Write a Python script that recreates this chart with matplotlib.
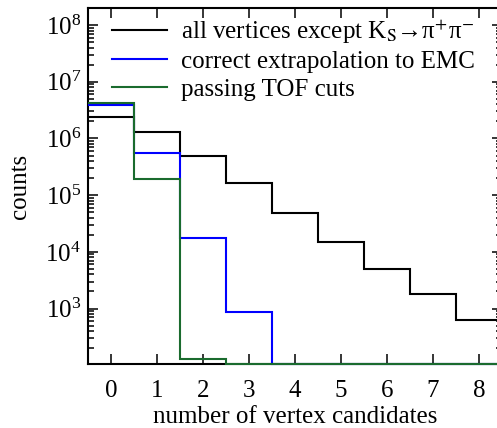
import numpy as np
import matplotlib
matplotlib.use('Agg')
import matplotlib.pyplot as plt

plt.rcParams['font.family'] = ['Liberation Serif', 'DejaVu Serif']
plt.rcParams['mathtext.fontset'] = 'stix'

# histogram contents, bins centred on 0..8
n_vertex = [0, 1, 2, 3, 4, 5, 6, 7, 8]
all_vertices = [2.44e6, 1.32e6, 4.9e5, 1.64e5, 4.8e4, 1.47e4, 4.9e3, 1.84e3, 640]
correct_emc = [3.9e6, 5.5e5, 1.77e4, 861, 0, 0, 0, 0, 0]
passing_tof = [4.3e6, 1.92e5, 129, 0, 0, 0, 0, 0, 0]

labels = ['all vertices except K$_{\\mathrm{S}}$→π$^{+}$π$^{-}$',
          'correct extrapolation to EMC',
          'passing TOF cuts']
colors = ['black', '#0000ff', '#1a6b2e']

ymin, ymax = 104, 2e8
edges = np.arange(len(n_vertex) + 1) - 0.5

fig = plt.figure(figsize=(4.97, 4.28), dpi=100)
ax = fig.add_axes([88/497, (428-364.3)/428, (502-88)/497, (364.3-8)/428])

for vals, lab, c in zip([all_vertices, correct_emc, passing_tof], labels, colors):
    # empty bins are drawn on the lower frame, like ROOT does
    v = np.clip(np.array(vals, dtype=float), ymin, None)
    ax.stairs(v, edges, baseline=None, color=c, lw=1.5, label=lab,
              zorder=3, clip_on=False)

ax.set_yscale('log')
ax.set_ylim(ymin, ymax)
ax.set_xlim(-0.5, 8.5)
ax.set_xticks(n_vertex)

ax.tick_params(axis='both', which='both', direction='in', top=True, right=True,
               labelsize=18, width=1.1)
ax.tick_params(axis='x', which='major', length=7, pad=11)
ax.tick_params(axis='x', which='minor', bottom=False, top=False)
ax.tick_params(axis='y', which='major', length=7, pad=5)
ax.tick_params(axis='y', which='minor', length=4)
for s in ax.spines.values():
    s.set_linewidth(1.5)

ax.set_xlabel('number of vertex candidates', fontsize=18, labelpad=3)
ax.set_ylabel('counts', fontsize=18, labelpad=10)

ax.legend(loc='upper left', bbox_to_anchor=(0.04, 0.995), frameon=False,
          fontsize=18, handlelength=2.2, handletextpad=0.55,
          labelspacing=0.2, borderaxespad=0.1, borderpad=0.2)

fig.savefig('out.png', dpi=100)
